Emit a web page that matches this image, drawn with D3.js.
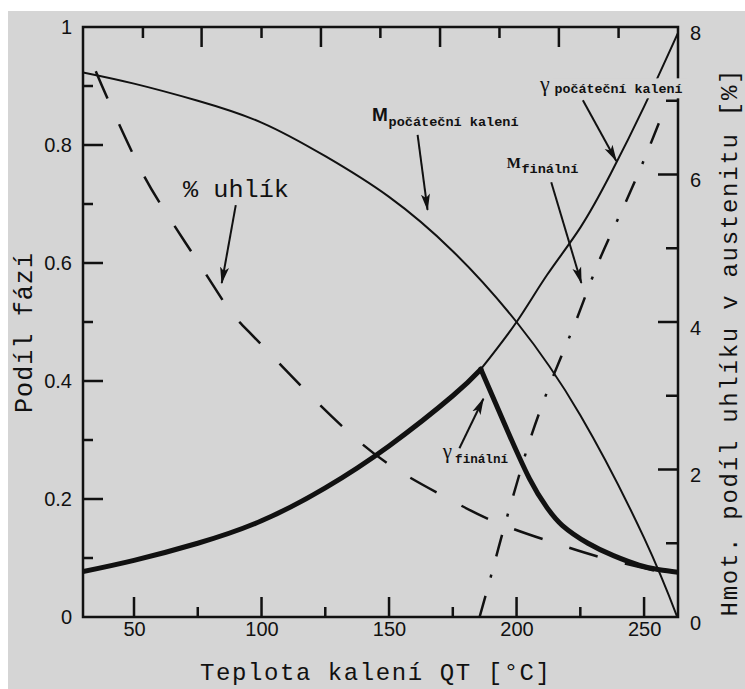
<!DOCTYPE html>
<html>
<head>
<meta charset="utf-8">
<script src="https://cdn.jsdelivr.net/npm/d3@7"></script>
<style>
  body { margin: 0; background: #fff; }
  svg { display: block; }
</style>
</head>
<body>
<script>
// tick values
var xTicks = [50, 100, 150, 200, 250];
var xMinor = [75, 125, 175, 225];
var topMajor = [76.5, 123.3, 170, 216.6];   // unlabelled top scale (in degC positions)
var topMinor = [53.5, 100, 146.6, 193.3, 240];
var yTicks = [0, 0.2, 0.4, 0.6, 0.8, 1];
var yMinor = [0.1, 0.3, 0.5, 0.7, 0.9];
var y2Ticks = [0, 2, 4, 6, 8];
var y2Minor = [1, 3, 5, 7];

// series [T, value]
var mStart = [[30,0.923],[50,0.904],[75,0.875],[100,0.838],[125,0.781],[150,0.712],[175,0.62],[200,0.5],[225,0.342],[250,0.134],[263,0]];
var gStart = [[186,0.42],[200,0.5],[212,0.58],[225,0.66],[237,0.752],[250,0.865],[263.3,0.99]];
var gFinalRise = [[30,0.077],[50,0.096],[75,0.125],[100,0.163],[125,0.219],[150,0.29],[175,0.375],[186,0.42]];
var gFinalFall = [[186,0.42],[195,0.33],[205,0.235],[212,0.185],[218,0.155],[228,0.125],[238,0.104],[248,0.088],[256,0.08],[263.3,0.076]];
var mFinal = [[185.5,0],[190,0.07],[195,0.15],[200,0.225],[206,0.31],[215,0.415],[223.4,0.503],[232,0.6],[241.4,0.69],[250,0.775],[257,0.85]];
var carbon = [[35,7.4],[40,7.0],[50,6.25],[60,5.62],[75,4.82],[87,4.18],[95,3.87],[115,3.15],[135,2.48],[153,2.0],[174,1.59],[193,1.27],[217,0.98],[233,0.81],[255,0.62]];

// annotation arrows [from, to] in data units (left axis)
var arrows = [
  [[89.9,0.698],[84.4,0.566]],
  [[161.2,0.817],[165.1,0.69]],
  [[226,0.876],[239.1,0.773]],
  [[213.6,0.737],[225.4,0.566]],
  [[177.6,0.286],[187,0.37]]
];

var W = 745, H = 689;
var plot = {left: 83, right: 678, top: 27, bottom: 617};
var ink = "#111";
var paper = "#d5d5d5";

var svg = d3.select("body").append("svg")
    .attr("width", W)
    .attr("height", H);

svg.append("rect")
    .attr("x", 8).attr("y", 11)
    .attr("width", W - 8).attr("height", H - 11)
    .attr("fill", paper);

var x = d3.scaleLinear().domain([30, 263.3]).range([plot.left, plot.right]);
var y = d3.scaleLinear().domain([0, 1]).range([plot.bottom, plot.top]);
var y2 = d3.scaleLinear().domain([0, 8]).range([plot.bottom, plot.top]);

var defs = svg.append("defs");
defs.append("clipPath").attr("id", "clip")
  .append("rect")
    .attr("x", plot.left).attr("y", plot.top)
    .attr("width", plot.right - plot.left)
    .attr("height", plot.bottom - plot.top);
defs.append("marker")
    .attr("id", "head")
    .attr("markerUnits", "userSpaceOnUse")
    .attr("markerWidth", 17).attr("markerHeight", 10)
    .attr("refX", 16).attr("refY", 5)
    .attr("orient", "auto")
  .append("path")
    .attr("d", "M0,0.5 L17,5 L0,9.5 L4,5 Z")
    .attr("fill", ink);

// tick labels through d3 axes (tick marks are part of the frame path below)
function styleAxis(g) {
  g.select(".domain").remove();
  g.selectAll(".tick line").remove();
  g.selectAll(".tick text")
      .attr("fill", ink)
      .style("font-family", "'Liberation Sans', Arial, sans-serif")
      .style("font-size", "20px");
}

svg.append("g").attr("transform", "translate(0," + plot.bottom + ")")
    .call(d3.axisBottom(x).tickValues(xTicks).tickSize(0).tickPadding(5).tickFormat(d3.format("d")))
    .call(styleAxis);
svg.append("g").attr("transform", "translate(" + plot.left + ",0)")
    .call(d3.axisLeft(y).tickValues(yTicks).tickSize(0).tickPadding(11)
      .tickFormat(function(d) { return d === 0 ? "0" : d === 1 ? "1" : d.toFixed(1); }))
    .call(styleAxis);
svg.append("g").attr("transform", "translate(" + plot.right + ",0)")
    .call(d3.axisRight(y2).tickValues(y2Ticks).tickSize(0).tickPadding(12).tickFormat(d3.format("d")))
    .call(styleAxis)
    .selectAll("text").attr("dy", "0.6em");

var line = d3.line()
    .x(function(d) { return x(d[0]); })
    .y(function(d) { return y(d[1]); })
    .curve(d3.curveNatural);
var line2 = d3.line()
    .x(function(d) { return x(d[0]); })
    .y(function(d) { return y2(d[1]); })
    .curve(d3.curveNatural);

var curves = svg.append("g").attr("clip-path", "url(#clip)")
    .attr("fill", "none").attr("stroke", ink);

curves.append("path").attr("d", line(mStart)).attr("stroke-width", 2);
curves.append("path").attr("d", line(gStart)).attr("stroke-width", 2);
curves.append("path").attr("d", line(gFinalRise)).attr("stroke-width", 5).attr("stroke-linecap", "round");
curves.append("path").attr("d", line(gFinalFall)).attr("stroke-width", 5).attr("stroke-linecap", "round");
curves.append("path").attr("d", line(mFinal)).attr("stroke-width", 2.5)
    .attr("stroke-dasharray", "22,19,3,19");
curves.append("path").attr("d", line2(carbon)).attr("stroke-width", 2.5)
    .attr("stroke-dasharray", "30,28");

// frame with inward tick marks, one path
var framePath = d3.path();
framePath.moveTo(plot.left, plot.top);
framePath.lineTo(plot.right, plot.top);
framePath.lineTo(plot.right, plot.bottom);
framePath.lineTo(plot.left, plot.bottom);
framePath.closePath();
function xTickMarks(vals, y0, len) {
  vals.forEach(function(d) { framePath.moveTo(x(d), y0); framePath.lineTo(x(d), y0 + len); });
}
function yTickMarks(vals, scale, x0, len) {
  vals.forEach(function(d) { framePath.moveTo(x0, scale(d)); framePath.lineTo(x0 + len, scale(d)); });
}
xTickMarks(xTicks, plot.bottom, -20);
xTickMarks(xMinor, plot.bottom, -10);
xTickMarks(topMajor, plot.top, 20);
xTickMarks(topMinor, plot.top, 11);
yTickMarks(yTicks, y, plot.left, 20);
yTickMarks(yMinor, y, plot.left, 10);
yTickMarks(y2Ticks, y2, plot.right, -20);
yTickMarks(y2Minor, y2, plot.right, -12);

svg.append("path")
    .attr("d", framePath.toString())
    .attr("fill", "none")
    .attr("stroke", ink)
    .attr("stroke-width", 2.5);

// arrows
svg.append("g").selectAll("line")
    .data(arrows)
  .enter().append("line")
    .attr("x1", function(d) { return x(d[0][0]); })
    .attr("y1", function(d) { return y(d[0][1]); })
    .attr("x2", function(d) { return x(d[1][0]); })
    .attr("y2", function(d) { return y(d[1][1]); })
    .attr("stroke", ink)
    .attr("stroke-width", 2)
    .attr("marker-end", "url(#head)");

// labels
var mono = "'Liberation Mono', 'Courier New', monospace";
var sans = "'Liberation Sans', Arial, sans-serif";
var serif = "'Liberation Serif', 'Times New Roman', serif";

// background box of the gamma start label (it hides the line and the axis)
svg.append("rect")
    .attr("x", x(214.3)).attr("y", y(0.913))
    .attr("width", 133).attr("height", 20)
    .attr("fill", paper);

function label(tx, ty, str, font, size, weight, len) {
  var t = svg.append("text")
      .attr("x", x(tx)).attr("y", y(ty))
      .attr("fill", ink)
      .style("font-family", font)
      .style("font-size", size + "px")
      .style("font-weight", weight)
      .text(str);
  if (len) t.attr("textLength", len).attr("lengthAdjust", "spacingAndGlyphs");
  return t;
}

label(69.2, 0.712, "% uhlík", mono, 23, "normal", 106);

label(143.3, 0.84, "M", sans, 19, "bold");
label(149.8, 0.833, "počáteční kalení", mono, 13, "bold", 130);

label(209.2, 0.892, "γ", serif, 22, "normal");
label(214.9, 0.888, "počáteční kalení", mono, 13, "bold", 128);

label(196.2, 0.761, "M", serif, 15, "bold");
label(201.9, 0.753, "finální", mono, 13, "bold", 57);

label(171.1, 0.27, "γ", serif, 21, "normal");
label(175.9, 0.261, "finální", mono, 12, "bold", 53);

// axis titles
svg.append("text")
    .attr("x", 375).attr("y", 680)
    .attr("text-anchor", "middle")
    .attr("fill", ink)
    .style("font-family", mono)
    .style("font-size", "24px")
    .attr("textLength", 350)
    .text("Teplota kalení QT [°C]");

svg.append("text")
    .attr("transform", "translate(32,333) rotate(-90)")
    .attr("text-anchor", "middle")
    .attr("fill", ink)
    .style("font-family", mono)
    .style("font-size", "25px")
    .attr("textLength", 160)
    .text("Podíl fází");

svg.append("text")
    .attr("transform", "translate(737,343) rotate(-90)")
    .attr("text-anchor", "middle")
    .attr("fill", ink)
    .style("font-family", mono)
    .style("font-size", "24px")
    .attr("textLength", 547)
    .text("Hmot. podíl uhlíku v austenitu [%]");
</script>
</body>
</html>
